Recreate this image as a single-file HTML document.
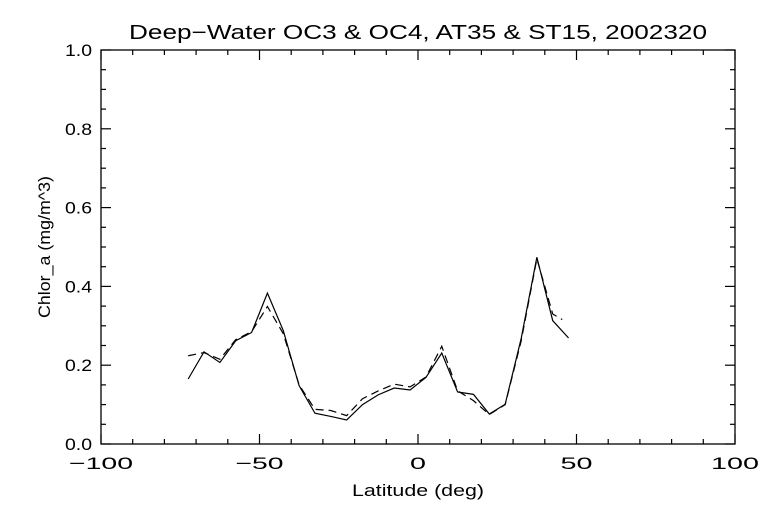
<!DOCTYPE html>
<html><head><meta charset="utf-8"><style>
body{margin:0;background:#fff}
svg text{font-family:"Liberation Sans",sans-serif;font-size:17px;fill:#000}
</style></head><body>
<svg id="chart" width="768" height="512" xmlns="http://www.w3.org/2000/svg">
<rect width="768" height="512" fill="#fff"/>
<text x="418" y="39" text-anchor="middle" style="font-size:20px" textLength="578" lengthAdjust="spacingAndGlyphs">Deep−Water OC3 &amp; OC4, AT35 &amp; ST15, 2002320</text>
<text x="418" y="496" text-anchor="middle" textLength="132" lengthAdjust="spacingAndGlyphs">Latitude (deg)</text>
<text transform="translate(50,247) rotate(-90)" text-anchor="middle" textLength="142" lengthAdjust="spacingAndGlyphs">Chlor_a (mg/m^3)</text>
<g id="axes"></g>
<g id="series"></g>
</svg>
<script>
const lats=[-72.5,-67.5,-62.5,-57.5,-52.5,-47.5,-42.5,-37.5,-32.5,-27.5,-22.5,-17.5,-12.5,-7.5,-2.5,2.5,7.5,12.5,17.5,22.5,27.5,32.5,37.5,42.5,47.5];
const solidVals=[0.165,0.234,0.207,0.262,0.283,0.383,0.288,0.148,0.078,0.070,0.061,0.100,0.125,0.142,0.137,0.169,0.231,0.132,0.126,0.076,0.101,0.266,0.474,0.313,0.269];
const dashedLats=[-72.5,-67.5,-62.5,-57.5,-52.5,-47.5,-42.5,-37.5,-32.5,-27.5,-22.5,-17.5,-12.5,-7.5,-2.5,2.5,7.5,12.5,17.5,22.5,27.5,32.5,37.5,42.5,45.5];
const dashedVals=[0.224,0.232,0.215,0.265,0.285,0.349,0.280,0.150,0.088,0.085,0.072,0.115,0.135,0.152,0.145,0.170,0.248,0.135,0.110,0.075,0.100,0.260,0.470,0.330,0.316];
const xTicks=[-100,-50,0,50,100];
const yTicks=[0.0,0.2,0.4,0.6,0.8,1.0];
const L=101,R=735,T=50,B=444;
const X=v=>L+(v+100)/200*(R-L);
const Y=v=>B-v*(B-T);
const NS="http://www.w3.org/2000/svg";
const axes=document.getElementById('axes');
function mk(tag,attrs,parent){const e=document.createElementNS(NS,tag);for(const k in attrs)e.setAttribute(k,attrs[k]);parent.appendChild(e);return e;}
const frame=mk('rect',{x:L,y:T,width:R-L,height:B-T,fill:'none',stroke:'#000','stroke-width':1.3},axes);


for(let v=-100;v<=100;v+=10){
  const major=v%50===0,len=major?10:5,x=X(v);
  const t1=mk('line',{x1:x,x2:x,y1:B,y2:B-len,stroke:'#000','stroke-width':1.2},axes);
  
  
  const t2=mk('line',{x1:x,x2:x,y1:T,y2:T+len,stroke:'#000','stroke-width':1.2},axes);
  
  
}
for(let i=0;i<=20;i++){
  const v=i*0.05,major=i%4===0,len=major?10:5,y=Y(v);
  const t1=mk('line',{x1:L,x2:L+len,y1:y,y2:y,stroke:'#000','stroke-width':1.2},axes);
  
  
  const t2=mk('line',{x1:R,x2:R-len,y1:y,y2:y,stroke:'#000','stroke-width':1.2},axes);
  
  
}
xTicks.forEach(v=>{
  const s=v<0?'−'+(-v):String(v);
  const t=mk('text',{x:X(v),y:B+25,'text-anchor':'middle',textLength:s.length*16,lengthAdjust:'spacingAndGlyphs'},axes);
  t.textContent=s;
  
  
});
yTicks.forEach(v=>{
  const t=mk('text',{x:L-9,y:Y(v)+6,'text-anchor':'end',textLength:27,lengthAdjust:'spacingAndGlyphs'},axes);
  t.textContent=v.toFixed(1);
  
  
});
const g=document.getElementById('series');
const s=mk('polyline',{points:lats.map((l,i)=>X(l)+','+Y(solidVals[i])).join(' '),fill:'none',stroke:'#000','stroke-width':1.2},g);


const d=mk('polyline',{points:dashedLats.map((l,i)=>X(l)+','+Y(dashedVals[i])).join(' '),fill:'none',stroke:'#000','stroke-width':1.2,'stroke-dasharray':'8,5'},g);


</script>
</body></html>
